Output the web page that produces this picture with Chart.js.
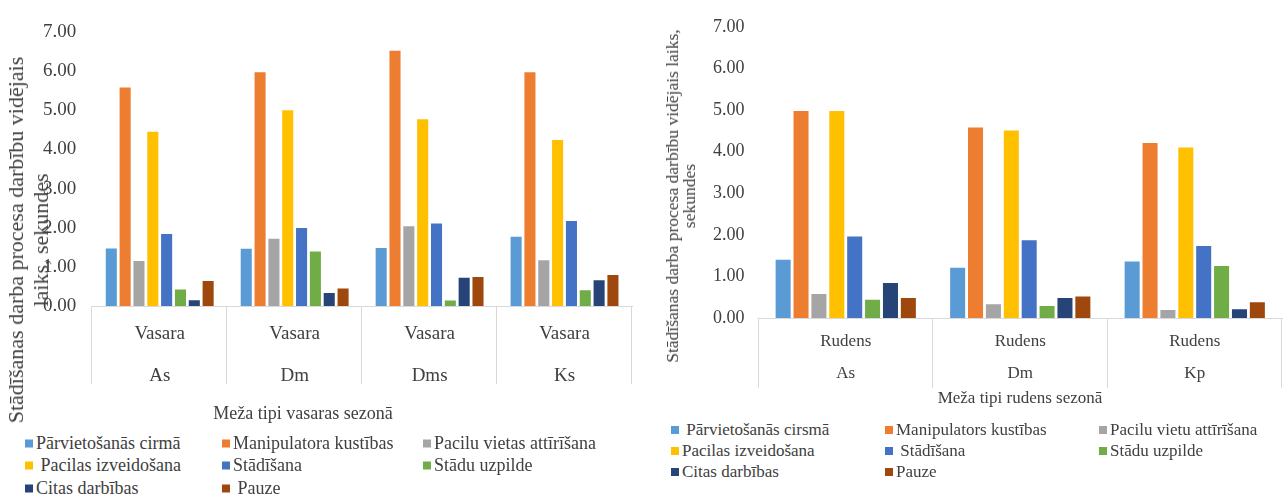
<!DOCTYPE html>
<html>
<head>
<meta charset="utf-8">
<script src="https://cdn.jsdelivr.net/npm/chart.js@4.4.1/dist/chart.umd.min.js"></script>
<style>
  body { margin: 0; background: #fff; }
  #wrap { position: relative; width: 1283px; height: 502px; overflow: hidden; background: #fff; font-family: "Liberation Serif", "Times New Roman", serif; color: #404040; }
  #left { position: absolute; left: 0; top: 0; }
  #right { position: absolute; left: 640px; top: 0; }
  .xtitle { position: absolute; white-space: nowrap; transform: translate(-50%, -50%); }
  .ytitle { position: absolute; white-space: nowrap; text-align: center; transform: translate(-50%, -50%) rotate(-90deg); }
  .leg { position: absolute; white-space: nowrap; transform: translateY(-50%); }
  .leg i { display: inline-block; width: 8px; height: 8px; margin-right: 3px; vertical-align: 1px; }
</style>
</head>
<body>
<div id="wrap">
  <canvas id="left" width="640" height="408"></canvas>
  <canvas id="right" width="643" height="402"></canvas>
  <div class="ytitle" style="left:28px; top:240px; font-size:22px; line-height:25px;">Stādīšanas darba procesa darbību vidējais<br>laiks, sekundes</div>
  <div class="ytitle" style="left:681px; top:196px; font-size:17.5px; line-height:17px;">Stādīšanas darba procesa darbību vidējais laiks,<br>sekundes</div>
  <div class="xtitle" style="left:303px; top:413px; font-size:18px;">Meža tipi vasaras sezonā</div>
  <div class="xtitle" style="left:1020px; top:398px; font-size:17px;">Meža tipi rudens sezonā</div>
  <div id="legL" style="font-size:18px;"></div>
  <div id="legR" style="font-size:17px;"></div>
</div>
<script>
// summer chart (left)
const summerSeason = 'Vasara';
const summerTypes = ['As', 'Dm', 'Dms', 'Ks'];
const summerNames = ['Pārvietošanās cirmā', 'Manipulatora kustības', 'Pacilu vietas attīrīšana',
  ' Pacilas izveidošana', 'Stādīšana', 'Stādu uzpilde', 'Citas darbības', ' Pauze'];
const sMove   = [1.47, 1.46, 1.48, 1.77];
const sManip  = [5.58, 5.97, 6.52, 5.97];
const sClear  = [1.15, 1.72, 2.04, 1.17];
const sForm   = [4.45, 5.00, 4.77, 4.24];
const sPlant  = [1.84, 1.99, 2.11, 2.17];
const sFill   = [0.42, 1.39, 0.14, 0.40];
const sOther  = [0.15, 0.33, 0.72, 0.66];
const sPause  = [0.64, 0.45, 0.74, 0.79];

// autumn chart (right)
const autumnSeason = 'Rudens';
const autumnTypes = ['As', 'Dm', 'Kp'];
const autumnNames = [' Pārvietošanās cirsmā', 'Manipulators kustības', 'Pacilu vietu attīrīšana',
  'Pacilas izveidošana', ' Stādīšana', 'Stādu uzpilde', 'Citas darbības', 'Pauze'];
const aMove   = [1.40, 1.21, 1.36];
const aManip  = [4.98, 4.58, 4.21];
const aClear  = [0.58, 0.33, 0.19];
const aForm   = [4.98, 4.51, 4.10];
const aPlant  = [1.96, 1.87, 1.73];
const aFill   = [0.44, 0.29, 1.25];
const aOther  = [0.84, 0.48, 0.21];
const aPause  = [0.48, 0.52, 0.38];

const yTicks = [0, 1, 2, 3, 4, 5, 6, 7];
const colors = ['#5B9BD5', '#ED7D31', '#A5A5A5', '#FFC000', '#4472C4', '#70AD47', '#264478', '#9E480E'];
const textColor = '#404040';
const lineColor = '#d9d9d9';
const serif = 'Liberation Serif, Times New Roman, serif';

// vertical separators between the categories, hanging below the axis (Excel multi-level style)
const dividers = {
  id: 'dividers',
  afterDraw(chart, args, opts) {
    const x = chart.scales.x;
    const n = x.ticks.length;
    const ctx = chart.ctx;
    ctx.save();
    ctx.strokeStyle = lineColor;
    ctx.lineWidth = 1;
    for (let i = 0; i <= n; i++) {
      let px;
      if (i === 0) px = x.left;
      else if (i === n) px = x.right;
      else px = (x.getPixelForTick(i - 1) + x.getPixelForTick(i)) / 2;
      px = Math.round(px) - 0.5;
      ctx.beginPath();
      ctx.moveTo(px, x.top);
      ctx.lineTo(px, x.top + opts.length);
      ctx.stroke();
    }
    ctx.restore();
  }
};

function makeChart(id, season, types, names, series, o) {
  return new Chart(document.getElementById(id), {
    type: 'bar',
    plugins: [dividers],
    data: {
      labels: types.map(t => [season, t]),
      datasets: series.map((d, i) => ({
        label: names[i],
        data: d,
        backgroundColor: colors[i],
        barPercentage: o.barPct,
        categoryPercentage: 0.82
      }))
    },
    options: {
      responsive: false,
      animation: false,
      layout: { padding: o.padding },
      plugins: {
        legend: { display: false },
        tooltip: { enabled: false },
        dividers: { length: o.divLen }
      },
      scales: {
        x: {
          grid: { display: false, drawTicks: false },
          border: { display: true, color: lineColor },
          ticks: {
            autoSkip: false, maxRotation: 0, color: textColor, padding: o.xPad,
            font: { family: serif, size: o.xFont, lineHeight: o.xLine }
          }
        },
        y: {
          min: 0, max: 7,
          afterBuildTicks: s => { s.ticks = yTicks.map(v => ({ value: v })); },
          grid: { display: false, drawTicks: false },
          border: { display: false },
          ticks: {
            color: textColor, padding: o.yPad,
            font: { family: serif, size: o.yFont },
            callback: v => v.toFixed(2)
          }
        }
      }
    }
  });
}

const left = makeChart('left', summerSeason, summerTypes, summerNames,
  [sMove, sManip, sClear, sForm, sPlant, sFill, sOther, sPause], {
    barPct: 0.8, padding: { left: 27, right: 8, top: 32, bottom: 4 },
    divLen: 78, xPad: 7, xFont: 19, xLine: 42 / 19, yFont: 19, yPad: 16
  });

const right = makeChart('right', autumnSeason, autumnTypes, autumnNames,
  [aMove, aManip, aClear, aForm, aPlant, aFill, aOther, aPause], {
    barPct: 0.84, padding: { left: 59, right: 1, top: 27, bottom: 4 },
    divLen: 70, xPad: 8, xFont: 17, xLine: 32 / 17, yFont: 18, yPad: 14
  });

// HTML legends built from the chart datasets, three columns like the original
function buildLegend(chart, el, xs, ys, dx) {
  const holder = document.getElementById(el);
  chart.data.datasets.forEach((ds, i) => {
    const d = document.createElement('div');
    d.className = 'leg';
    d.style.left = (dx + xs[i % 3]) + 'px';
    d.style.top = ys[Math.floor(i / 3)] + 'px';
    d.innerHTML = '<i style="background:' + ds.backgroundColor + '"></i>';
    d.appendChild(document.createTextNode(ds.label));
    holder.appendChild(d);
  });
}
buildLegend(left, 'legL', [25, 222, 423], [443, 465, 488], 0);
buildLegend(right, 'legR', [31, 245, 459], [430, 451, 472], 640);
</script>
</body>
</html>
